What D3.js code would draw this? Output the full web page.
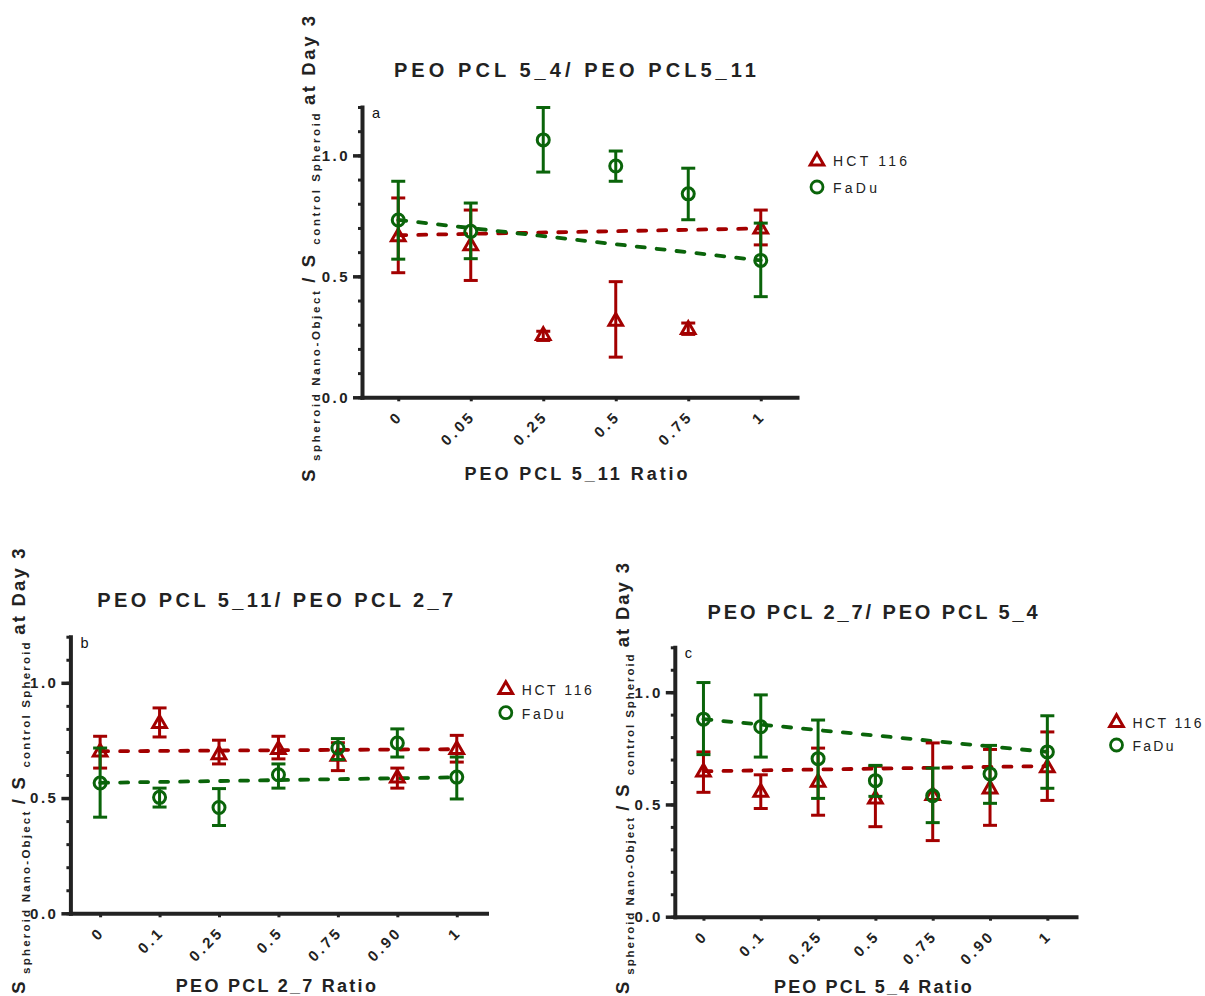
<!DOCTYPE html>
<html><head><meta charset="utf-8">
<script src="https://cdn.jsdelivr.net/npm/d3@7/dist/d3.min.js"></script>
<style>
html,body{margin:0;padding:0;background:#fff;}
svg{display:block;font-family:'Liberation Sans',Arial,sans-serif;}
</style></head>
<body>
<svg id="chart" width="1205" height="996"></svg>
<script>
// ---------- DATA ----------
const seriesNames = ["HCT 116", "FaDu"];
const yTicksMajor = [0, 0.5, 1.0];
const yTicksMinor = [0,0.1,0.2,0.3,0.4,0.5,0.6,0.7,0.8,0.9,1.0,1.1,1.2];

// Panel a
const catsA = ["0", "0.05", "0.25", "0.5", "0.75", "1"];
const hctA   = [0.663, 0.626, 0.255, 0.314, 0.280, 0.695];
const hctALo = [0.515, 0.483, 0.235, 0.166, 0.260, 0.630];
const hctAHi = [0.824, 0.774, 0.273, 0.478, 0.307, 0.774];
const faduA   = [0.733, 0.686, 1.064, 0.956, 0.841, 0.566];
const faduALo = [0.571, 0.573, 0.931, 0.893, 0.734, 0.416];
const faduAHi = [0.893, 0.803, 1.198, 1.018, 0.947, 0.720];
const hctAFit  = [0.670, 0.698];
const faduAFit = [0.733, 0.566];

// Panel b
const catsB = ["0", "0.1", "0.25", "0.5", "0.75", "0.90", "1"];
const hctB   = [0.699, 0.823, 0.688, 0.710, 0.681, 0.587, 0.710];
const hctBLo = [0.630, 0.765, 0.648, 0.670, 0.619, 0.543, 0.656];
const hctBHi = [0.768, 0.891, 0.751, 0.768, 0.740, 0.630, 0.772];
const faduB   = [0.565, 0.503, 0.459, 0.601, 0.717, 0.739, 0.591];
const faduBLo = [0.417, 0.461, 0.381, 0.543, 0.667, 0.678, 0.496];
const faduBHi = [0.717, 0.543, 0.541, 0.648, 0.758, 0.800, 0.678];
const hctBFit  = [0.703, 0.712];
const faduBFit = [0.566, 0.590];

// Panel c
const catsC = ["0", "0.1", "0.25", "0.5", "0.75", "0.90", "1"];
const hctC   = [0.644, 0.554, 0.599, 0.524, 0.539, 0.569, 0.663];
const hctCLo = [0.554, 0.482, 0.452, 0.401, 0.339, 0.407, 0.518];
const hctCHi = [0.734, 0.632, 0.751, 0.670, 0.774, 0.745, 0.823];
const faduC   = [0.880, 0.846, 0.704, 0.606, 0.539, 0.636, 0.734];
const faduCLo = [0.722, 0.711, 0.527, 0.536, 0.419, 0.505, 0.572];
const faduCHi = [1.043, 0.988, 0.876, 0.674, 0.662, 0.763, 0.895];
const hctCFit  = [0.648, 0.671];
const faduCFit = [0.880, 0.734];

const titles = ["PEO PCL 5_4/ PEO PCL5_11", "PEO PCL 5_11/ PEO PCL 2_7", "PEO PCL 2_7/ PEO PCL 5_4"];
const xTitles = ["PEO PCL 5_11 Ratio", "PEO PCL 2_7 Ratio", "PEO PCL 5_4  Ratio"];
const panelLetters = ["a", "b", "c"];

// ---------- STYLE / LAYOUT ----------
const RED = "#a30000", GREEN = "#0a640a", AX = "#222";
const FONT = "'Liberation Sans',Arial,sans-serif";

const panels = [
  { letter: panelLetters[0], title: titles[0], xTitle: xTitles[0], cats: catsA,
    hct: [hctA, hctALo, hctAHi, hctAFit], fadu: [faduA, faduALo, faduAHi, faduAFit],
    x0: 362, x1: 797, top: 107, bottom: 397.3,
    titleC: 577, titleY: 77, titleW: 362,
    xtC: 577.5, xtY: 480, xtW: 223,
    ylX: 315, ylC: 247.5, ylW: 471,
    legX: 817, legY1: 160, legY2: 187, legW1: 74, legW2: 44 },
  { letter: panelLetters[1], title: titles[1], xTitle: xTitles[1], cats: catsB,
    hct: [hctB, hctBLo, hctBHi, hctBFit], fadu: [faduB, faduBLo, faduBHi, faduBFit],
    x0: 70.4, x1: 486.5, top: 636.7, bottom: 913.3,
    titleC: 277, titleY: 607, titleW: 356,
    xtC: 277, xtY: 992, xtW: 200,
    ylX: 25, ylC: 770, ylW: 450,
    legX: 505.8, legY1: 688.5, legY2: 712.7, legW1: 70, legW2: 42 },
  { letter: panelLetters[2], title: titles[2], xTitle: xTitles[2], cats: catsC,
    hct: [hctC, hctCLo, hctCHi, hctCFit], fadu: [faduC, faduCLo, faduCHi, faduCFit],
    x0: 674.8, x1: 1076, top: 647.3, bottom: 916.7,
    titleC: 874, titleY: 619, titleW: 330,
    xtC: 874, xtY: 993, xtW: 200,
    ylX: 629, ylC: 777.5, ylW: 435,
    legX: 1116.5, legY1: 721.7, legY2: 745, legW1: 69, legW2: 41 }
];

const svg = d3.select("#chart");

function fitSpacing(sel, target) {
  const node = sel.node();
  const n = node.textContent.length;
  sel.attr("letter-spacing", 0);
  const len = node.getComputedTextLength();
  const ls = (target - len) / Math.max(1, n - 1);
  sel.attr("letter-spacing", ls.toFixed(2));
}

const triSym = d3.symbol().type(d3.symbolTriangle).size(80);

panels.forEach(p => {
  const g = svg.append("g");
  const x = d3.scalePoint().domain(p.cats).range([p.x0, p.x1]).padding(0.5);
  const y = d3.scaleLinear().domain([0, 1.2]).range([p.bottom, p.top]);

  // minor y ticks + domain
  const yMinor = g.append("g").attr("transform", `translate(${p.x0},0)`)
    .call(d3.axisLeft(y).tickValues(yTicksMinor).tickSize(4).tickSizeOuter(0).tickFormat(""));
  yMinor.selectAll(".tick line").attr("stroke", AX).attr("stroke-width", 3);
  yMinor.select(".domain").attr("stroke", AX).attr("stroke-width", 4).attr("stroke-linecap", "square");
  // major y ticks
  const yMajor = g.append("g").attr("transform", `translate(${p.x0},0)`)
    .call(d3.axisLeft(y).tickValues(yTicksMajor).tickSize(9).tickPadding(3).tickSizeOuter(0).tickFormat(d3.format(".1f")));
  yMajor.select(".domain").remove();
  yMajor.selectAll(".tick line").attr("stroke", AX).attr("stroke-width", 3.5);
  yMajor.selectAll(".tick text").attr("fill", AX).attr("font-family", FONT)
    .attr("font-size", 15).attr("font-weight", "bold").attr("letter-spacing", 2.5);

  // x axis
  const xAx = g.append("g").attr("transform", `translate(0,${p.bottom})`)
    .call(d3.axisBottom(x).tickSize(4).tickSizeOuter(0));
  xAx.select(".domain").attr("stroke", AX).attr("stroke-width", 4).attr("stroke-linecap", "square");
  xAx.selectAll(".tick line").attr("stroke", AX).attr("stroke-width", 3);
  xAx.selectAll(".tick text")
    .attr("fill", AX).attr("font-family", FONT).attr("font-size", 15).attr("font-weight", "bold")
    .attr("letter-spacing", 3)
    .attr("text-anchor", "end").attr("dy", null).attr("y", null)
    .attr("transform", "translate(5,20) rotate(-45)");

  // panel letter
  g.append("text").attr("x", p.x0 + 10).attr("y", p.top + 11)
    .attr("font-family", FONT).attr("font-size", 14.5).attr("fill", "#111").text(p.letter);

  // title
  const t = g.append("text").attr("x", p.titleC).attr("y", p.titleY).attr("text-anchor", "middle")
    .attr("font-family", FONT).attr("font-size", 20).attr("font-weight", "bold").attr("fill", AX).text(p.title);
  fitSpacing(t, p.titleW);
  // x title
  const xt = g.append("text").attr("x", p.xtC).attr("y", p.xtY).attr("text-anchor", "middle")
    .attr("font-family", FONT).attr("font-size", 18).attr("font-weight", "bold").attr("fill", AX).text(p.xTitle);
  fitSpacing(xt, p.xtW);

  // y label with subscripts
  const yl = g.append("text").attr("transform", `translate(${p.ylX},${p.ylC}) rotate(-90)`)
    .attr("text-anchor", "middle").attr("font-family", FONT).attr("font-weight", "bold").attr("fill", AX);
  yl.append("tspan").attr("font-size", 18.5).text("S");
  yl.append("tspan").attr("font-size", 11.5).attr("dy", 5).text(" spheroid Nano-Object ");
  yl.append("tspan").attr("font-size", 18.5).attr("dy", -5).text("/ S ");
  yl.append("tspan").attr("font-size", 11.5).attr("dy", 5).text(" control Spheroid ");
  yl.append("tspan").attr("font-size", 18.5).attr("dy", -5).text(" at Day 3");
  fitSpacing(yl, p.ylW);

  // fit lines
  const fits = [[p.hct[3], RED], [p.fadu[3], GREEN]];
  fits.forEach(([f, col]) => {
    g.append("line")
      .attr("x1", x(p.cats[0])).attr("x2", x(p.cats[p.cats.length - 1]))
      .attr("y1", y(f[0])).attr("y2", y(f[1]))
      .attr("stroke", col).attr("stroke-width", 3.8).attr("stroke-linecap", "round")
      .attr("stroke-dasharray", "8,12");
  });

  // series
  const series = [[p.hct, RED, "tri"], [p.fadu, GREEN, "circ"]];
  series.forEach(([s, col, shape]) => {
    const [vals, lo, hi] = s;
    const data = p.cats.map((c, i) => ({ c, v: vals[i], lo: lo[i], hi: hi[i] }));
    const sg = g.append("g");
    const eb = sg.selectAll("g.eb").data(data).join("g");
    eb.append("line").attr("x1", d => x(d.c)).attr("x2", d => x(d.c))
      .attr("y1", d => y(d.lo)).attr("y2", d => y(d.hi)).attr("stroke", col).attr("stroke-width", 3);
    [ "lo", "hi" ].forEach(k => {
      eb.append("line").attr("x1", d => x(d.c) - 7).attr("x2", d => x(d.c) + 7)
        .attr("y1", d => y(d[k])).attr("y2", d => y(d[k])).attr("stroke", col).attr("stroke-width", 3);
    });
    if (shape === "tri") {
      sg.selectAll("path.m").data(data).join("path")
        .attr("d", triSym).attr("transform", d => `translate(${x(d.c)},${y(d.v)})`)
        .attr("fill", "none").attr("stroke", col).attr("stroke-width", 3);
    } else {
      sg.selectAll("circle.m").data(data).join("circle")
        .attr("cx", d => x(d.c)).attr("cy", d => y(d.v)).attr("r", 6)
        .attr("fill", "none").attr("stroke", col).attr("stroke-width", 3);
    }
  });

  // legend
  g.append("path").attr("d", triSym).attr("transform", `translate(${p.legX},${p.legY1 + 1})`)
    .attr("fill", "none").attr("stroke", RED).attr("stroke-width", 3);
  g.append("circle").attr("cx", p.legX).attr("cy", p.legY2).attr("r", 6)
    .attr("fill", "none").attr("stroke", GREEN).attr("stroke-width", 2.8);
  const l1 = g.append("text").attr("x", p.legX + 16).attr("y", p.legY1 + 6)
    .attr("font-family", FONT).attr("font-size", 14).attr("fill", "#222").text(seriesNames[0]);
  fitSpacing(l1, p.legW1);
  const l2 = g.append("text").attr("x", p.legX + 16).attr("y", p.legY2 + 6)
    .attr("font-family", FONT).attr("font-size", 14).attr("fill", "#222").text(seriesNames[1]);
  fitSpacing(l2, p.legW2);
});
</script>
</body></html>
